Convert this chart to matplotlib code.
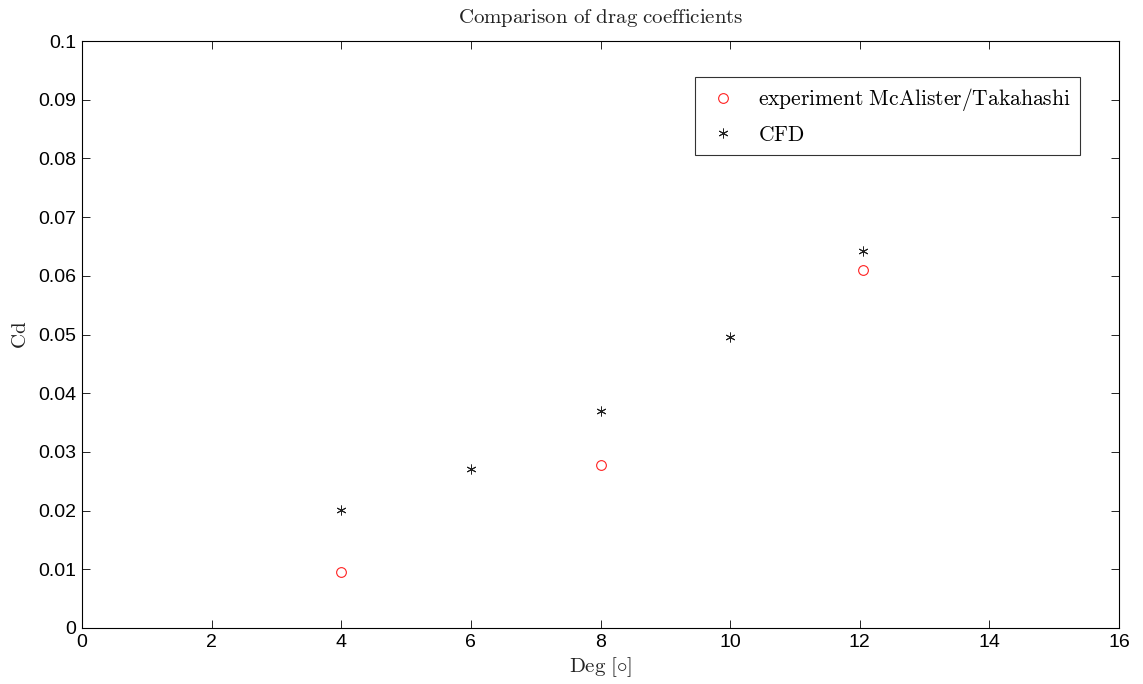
import matplotlib
matplotlib.use("Agg")
import matplotlib.pyplot as plt

exp_deg = [4, 8, 12.05]
exp_cd = [0.0095, 0.0278, 0.0610]
cfd_deg = [4, 6, 8, 10, 12.05]
cfd_cd = [0.0201, 0.0271, 0.0369, 0.0495, 0.0643]

xticks = [0, 2, 4, 6, 8, 10, 12, 14, 16]
yticks = [0, 0.01, 0.02, 0.03, 0.04, 0.05, 0.06, 0.07, 0.08, 0.09, 0.1]
yticklabels = ["0", "0.01", "0.02", "0.03", "0.04", "0.05", "0.06", "0.07", "0.08", "0.09", "0.1"]

plt.rcParams['mathtext.fontset'] = 'cm'
plt.rcParams['font.family'] = ['Liberation Sans', 'DejaVu Sans']

fig = plt.figure(figsize=(11.43, 6.84), dpi=100)
ax = fig.add_axes([82/1143, 1-628/684, (1119-82)/1143, (628-41)/684])

ax.plot(exp_deg, exp_cd, linestyle='none', marker='o', markersize=7,
        markerfacecolor='none', markeredgecolor='#ff2020', markeredgewidth=0.8,
        label=r'$\mathrm{experiment\ McAlister/Takahashi}$')
ax.plot(cfd_deg, cfd_cd, linestyle='none', marker=(6, 2, 0), markersize=7,
        color='#222222', markeredgewidth=0.7, label=r'$\mathrm{CFD}$')

ax.set_xlim(0, 16)
ax.set_ylim(0, 0.1)
ax.set_xticks(xticks)
ax.set_xticklabels([str(t) for t in xticks])
ax.set_yticks(yticks)
ax.set_yticklabels(yticklabels)
ax.tick_params(direction='in', top=True, right=True, labelsize=14, length=6, width=0.6, pad=4)
for s in ax.spines.values():
    s.set_linewidth(0.8)

ax.set_title(r'$\mathrm{Comparison\ of\ drag\ coefficients}$', fontsize=15, color='#222222', pad=13)
ax.set_xlabel(r'$\mathrm{Deg\ [\circ]}$', fontsize=15, color='#222222', labelpad=3)
ax.set_ylabel(r'$\mathrm{Cd}$', fontsize=15, color='#222222', labelpad=6)

leg = ax.legend(loc='upper right', bbox_to_anchor=((1080-82)/1037, (628-77)/587),
                fontsize=15.5, frameon=True, fancybox=False, edgecolor='black',
                borderpad=0.42, handletextpad=0.75, handlelength=1.75, labelspacing=0.55,
                borderaxespad=0)
leg.get_frame().set_linewidth(0.8)

fig.savefig('out.png', dpi=100)
